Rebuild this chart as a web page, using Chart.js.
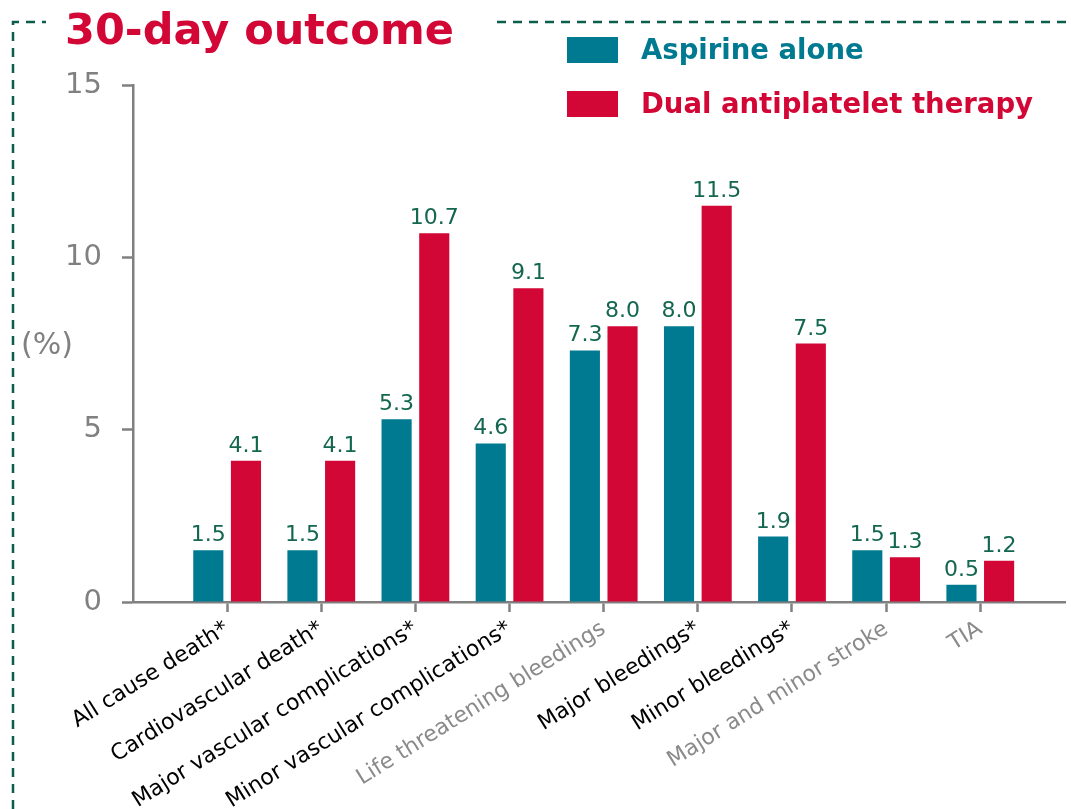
<!DOCTYPE html>
<html>
<head>
<meta charset="utf-8">
<script src="https://cdn.jsdelivr.net/npm/chart.js@4.4.1/dist/chart.umd.min.js"></script>
<style>
  html, body { margin: 0; padding: 0; background: #ffffff; }
  #wrap { width: 1071px; height: 809px; position: relative; }
</style>
</head>
<body>
<div id="wrap"><canvas id="c"></canvas></div>
<script>
// Outcome categories along the x axis
const categories = [
  'All cause death*',
  'Cardiovascular death*',
  'Major vascular complications*',
  'Minor vascular complications*',
  'Life threatening bleedings',
  'Major bleedings*',
  'Minor bleedings*',
  'Major and minor stroke',
  'TIA'
];
// Rates (%) per group
const aspirinAlone = [1.5, 1.5, 5.3, 4.6, 7.3, 8.0, 1.9, 1.5, 0.5];
const dualTherapy  = [4.1, 4.1, 10.7, 9.1, 8.0, 11.5, 7.5, 1.3, 1.2];
// Categories whose label is drawn in grey (non-significant)
const greyCategories = [4, 7, 8];
// Y axis ticks
const yTicks = [0, 5, 10, 15];

const TEAL = '#007a91';
const RED = '#d20736';
const GREY = '#808080';
const VALUE_GREEN = '#13664f';
const FRAME_GREEN = '#0b5e4a';
const FONT = "'DejaVu Sans', Verdana, sans-serif";

const toPoints = arr => arr.map((v, i) => ({ x: i + 1, y: v }));

// Value labels above bars
const valueLabels = {
  id: 'valueLabels',
  afterDatasetsDraw(chart) {
    const ctx = chart.ctx;
    ctx.save();
    ctx.font = '22px ' + FONT;
    ctx.fillStyle = VALUE_GREEN;
    ctx.textAlign = 'center';
    ctx.textBaseline = 'alphabetic';
    chart.data.datasets.forEach((ds, di) => {
      const meta = chart.getDatasetMeta(di);
      meta.data.forEach((bar, i) => {
        ctx.fillText(ds.data[i].y.toFixed(1), bar.x, bar.y - 9);
      });
    });
    ctx.restore();
  }
};

// Title, legend, unit label and dashed frame
const decorations = {
  id: 'decorations',
  afterDraw(chart) {
    const ctx = chart.ctx;
    ctx.save();
    // dashed frame
    ctx.strokeStyle = FRAME_GREEN;
    ctx.lineWidth = 2.5;
    ctx.setLineDash([9, 7]);
    ctx.beginPath();
    ctx.moveTo(13, 809);
    ctx.lineTo(13, 22);
    ctx.lineTo(46, 22);
    ctx.moveTo(497, 22);
    ctx.lineTo(1071, 22);
    ctx.stroke();
    ctx.setLineDash([]);

    // title
    ctx.fillStyle = RED;
    ctx.font = 'bold 43px ' + FONT;
    ctx.textAlign = 'left';
    ctx.textBaseline = 'alphabetic';
    ctx.fillText('30-day outcome', 65, 44);

    // legend
    const items = chart.data.datasets.map(ds => ({ text: ds.label, color: ds.backgroundColor }));
    ctx.font = 'bold 27.5px ' + FONT;
    items.forEach((it, i) => {
      const top = 37 + i * 54;
      ctx.fillStyle = it.color;
      ctx.fillRect(567, top, 51, 26);
      ctx.fillText(it.text, 641, top + 22);
    });

    // unit label
    ctx.fillStyle = GREY;
    ctx.font = '30px ' + FONT;
    ctx.fillText('(%)', 21, 354);
    ctx.restore();
  }
};

new Chart(document.getElementById('c'), {
  type: 'bar',
  data: {
    datasets: [
      { label: 'Aspirine alone', data: toPoints(aspirinAlone), backgroundColor: TEAL },
      { label: 'Dual antiplatelet therapy', data: toPoints(dualTherapy), backgroundColor: RED }
    ]
  },
  options: {
    responsive: true,
    maintainAspectRatio: false,
    animation: false,
    devicePixelRatio: 1,
    layout: { padding: { top: 85, right: 6, left: 0, bottom: 0 } },
    categoryPercentage: 0.8,
    barPercentage: 0.8,
    plugins: {
      legend: { display: false },
      tooltip: { enabled: false },
      title: { display: false }
    },
    scales: {
      x: {
        type: 'linear',
        min: 0,
        max: 9.9,
        offset: false,
        afterBuildTicks(scale) {
          scale.ticks = categories.map((c, i) => ({ value: i + 1 }));
        },
        afterFit(scale) {
          scale.height = 207;
          scale.paddingLeft = 0;
          scale.paddingRight = 0;
        },
        border: { display: true, color: GREY, width: 2.5 },
        grid: {
          offset: false,
          drawOnChartArea: false,
          drawTicks: true,
          tickLength: 10,
          tickColor: GREY,
          tickWidth: 2.5
        },
        ticks: {
          autoSkip: false,
          maxRotation: 32,
          minRotation: 32,
          padding: 4,
          font: { family: FONT, size: 22 },
          color: ctx => greyCategories.includes(ctx.index) ? '#8a8a8a' : '#000000',
          callback: v => categories[Math.round(v) - 1]
        }
      },
      y: {
        min: 0,
        max: 15,
        afterBuildTicks(scale) {
          scale.ticks = yTicks.map(v => ({ value: v }));
        },
        afterFit(scale) {
          scale.width = 133;
          scale.paddingTop = 0;
          scale.paddingBottom = 0;
        },
        border: { display: true, color: GREY, width: 2.5 },
        grid: {
          drawOnChartArea: false,
          drawTicks: true,
          tickLength: 11,
          tickColor: GREY,
          tickWidth: 2.5
        },
        ticks: {
          padding: 20,
          font: { family: FONT, size: 29 },
          color: GREY
        }
      }
    }
  },
  plugins: [valueLabels, decorations]
});
</script>
</body>
</html>
